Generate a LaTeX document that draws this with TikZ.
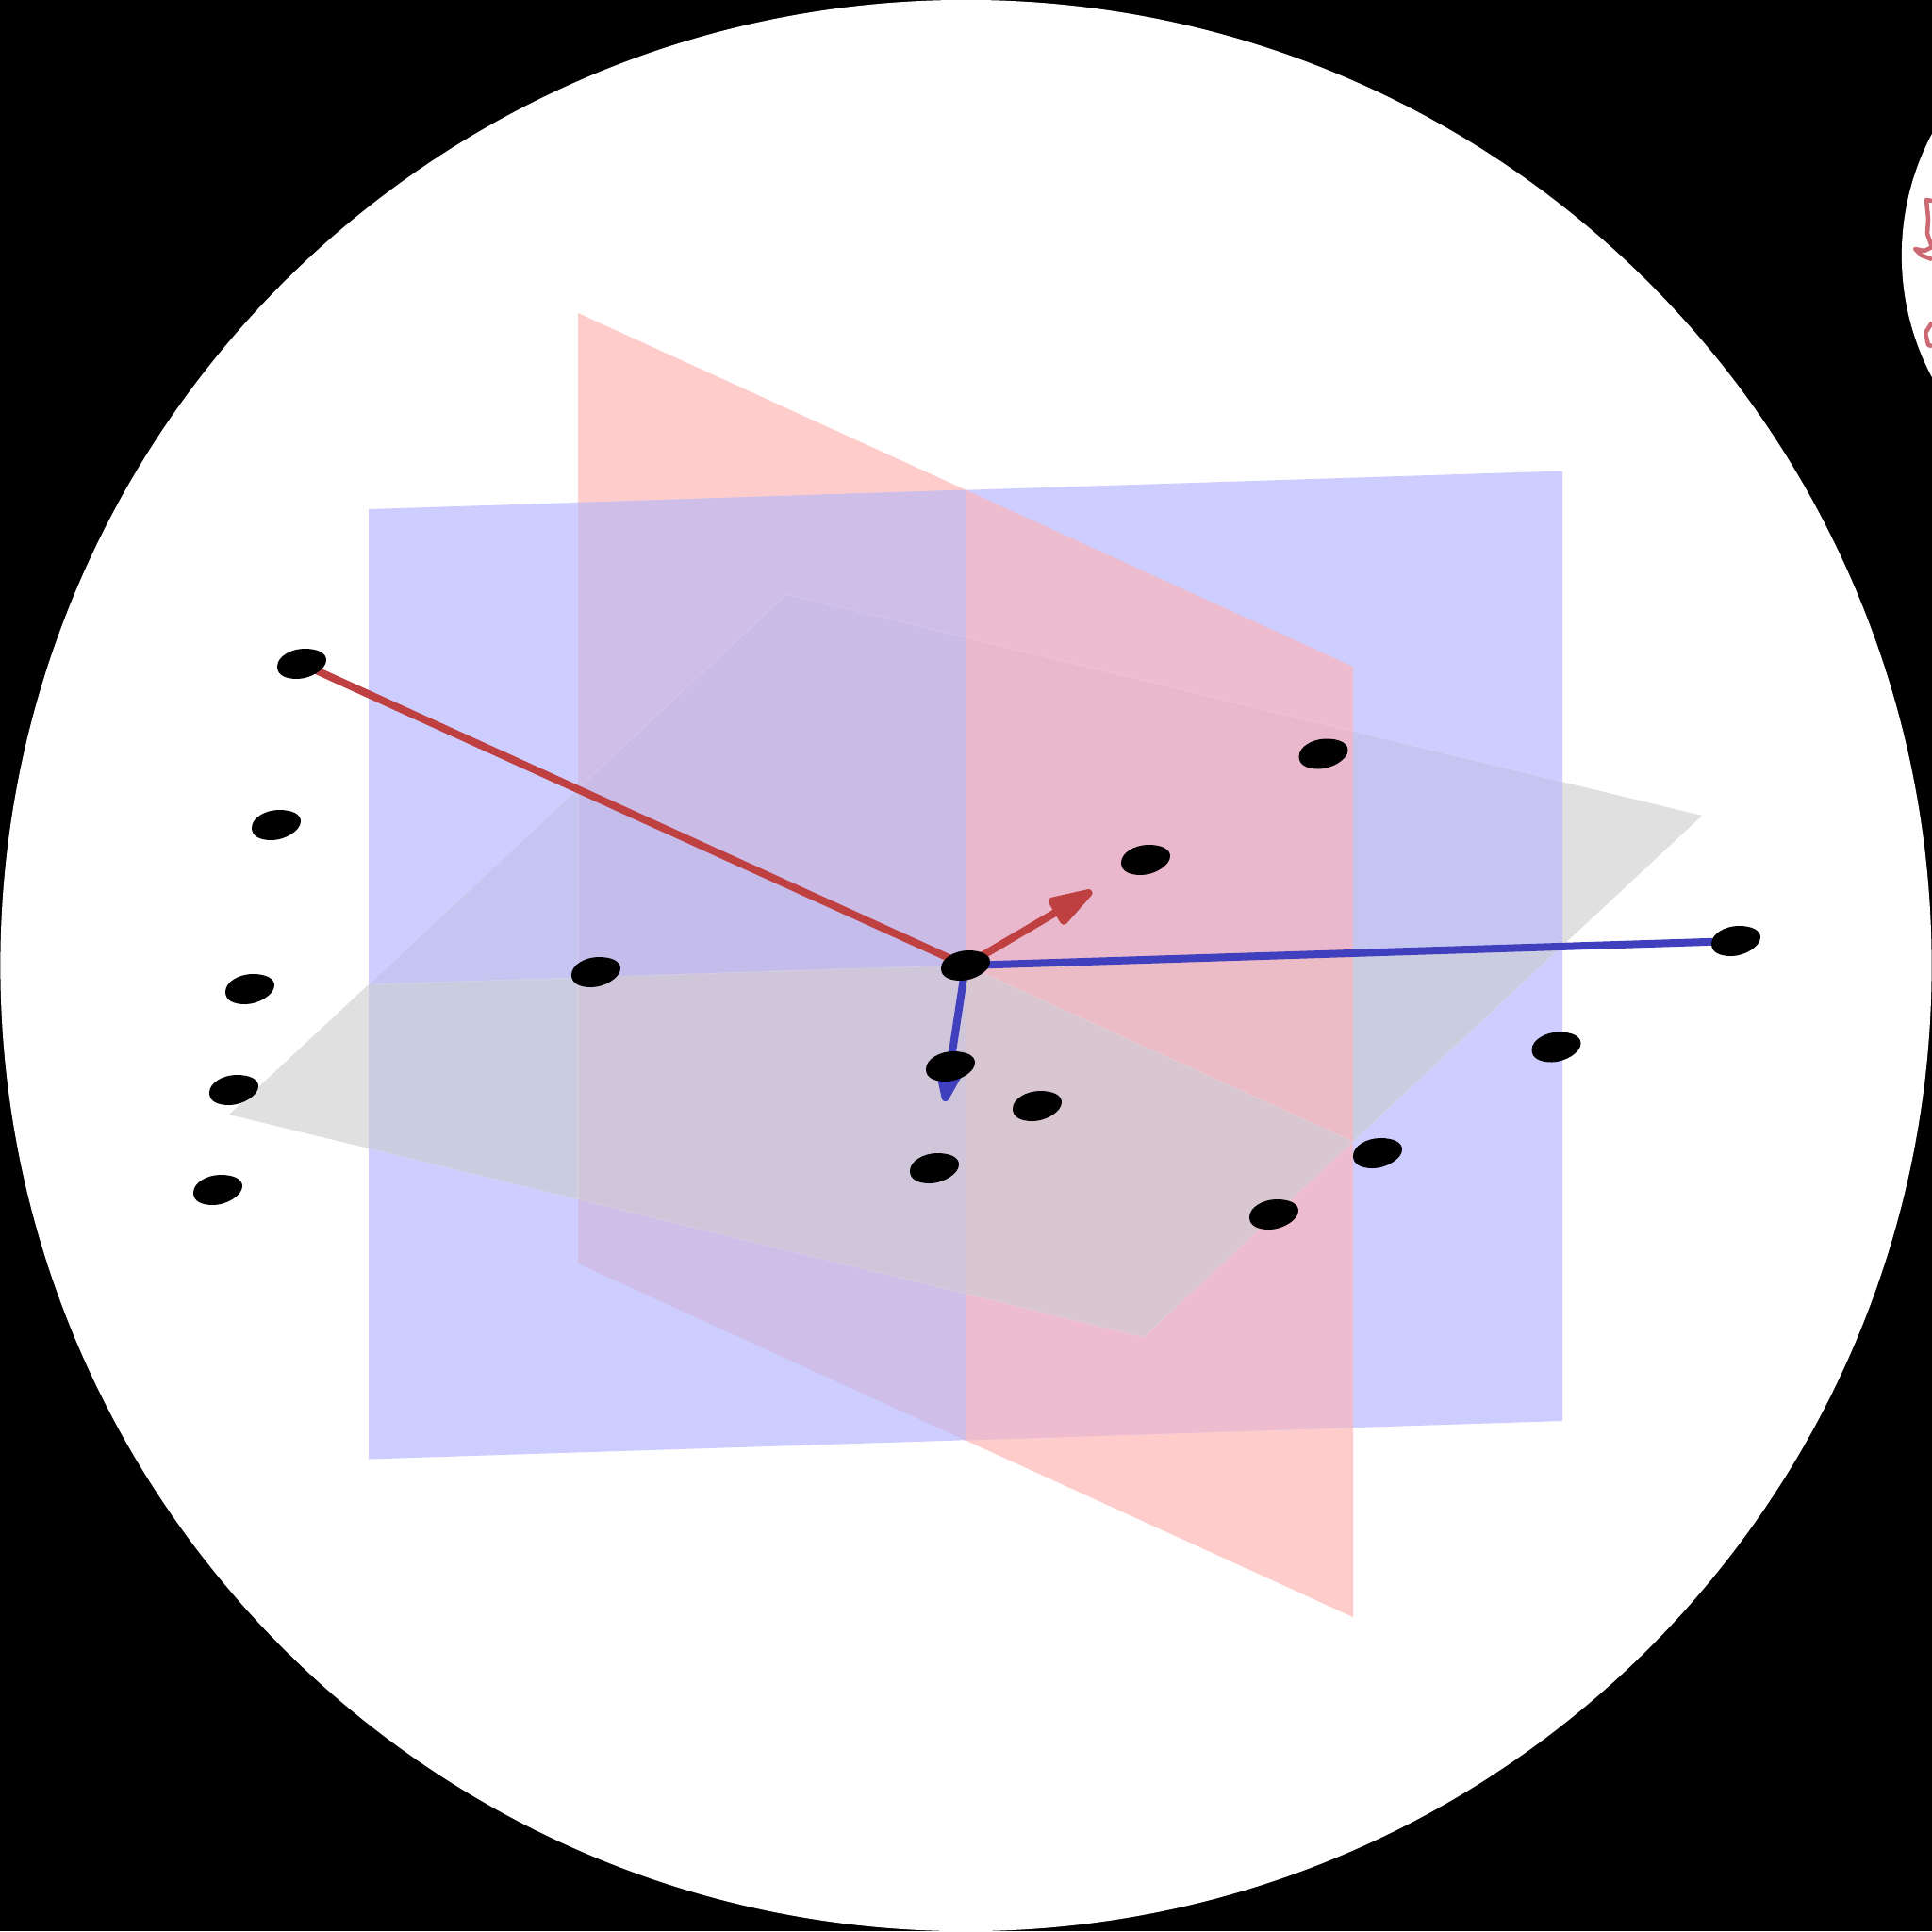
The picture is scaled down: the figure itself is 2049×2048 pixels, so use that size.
\documentclass[tikz,border=0pt]{standalone}
\usetikzlibrary{arrows.meta,shapes.geometric}
\definecolor{cB}{RGB}{205,205,255}
\definecolor{cP}{RGB}{255,204,204}
\definecolor{cG}{RGB}{224,224,224}
\definecolor{cPBl}{RGB}{207,190,232}
\definecolor{cPBr}{RGB}{237,188,207}
\definecolor{cBGu}{RGB}{196,197,240}
\definecolor{cBGd}{RGB}{202,204,224}
\definecolor{cLa}{RGB}{203,187,231}
\definecolor{cLb}{RGB}{196,188,235}
\definecolor{cLc}{RGB}{207,198,218}
\definecolor{cRa}{RGB}{233,184,204}
\definecolor{cRb}{RGB}{236,188,198}
\definecolor{cRc}{RGB}{216,198,208}
\definecolor{axR}{RGB}{191,64,64}
\definecolor{axB}{RGB}{64,64,191}
\definecolor{scrib}{RGB}{205,105,115}
\tikzset{
  dot/.style={ellipse,inner sep=0pt,minimum width=0.40cm,minimum height=0.20cm,rotate=15},
  axis/.style={line width=0.08cm},
  scribble/.style={draw=scrib,line width=0.045cm,line join=round},
  seam/.style={draw=white,draw opacity=0.13,line width=0.012cm}
}
\newcommand{\blobat}[1]{\fill[black,shift={(#1)}] (-26,3) .. controls (-26,-8) and (-11,-16) .. (3,-16) .. controls (16,-16) and (26,-12) .. (26,-4) .. controls (26,6) and (9,16) .. (-5,16) .. controls (-17,16) and (-26,12) .. (-26,3) -- cycle;}
\begin{document}
\begin{tikzpicture}[x=0.01cm,y=-0.01cm]
\useasboundingbox (0,0) rectangle (2049,2048);
\clip (0,0) rectangle (2049,2048);
\fill[black] (0,0) rectangle (2049,2048);
\fill[white] (1024.5,1024) circle [radius=10.235cm];
\fill[white] (2292,271) circle [radius=2.75cm];
% scribbles on the neighbouring disc
\draw[scribble] (2049,213) -- (2043,212) -- (2045,232) -- (2044,248) -- (2049,262);
\draw[scribble] (2049,262) -- (2041,266) -- (2031,264) -- (2038,271) -- (2049,275);
\draw[scribble] (2049,342) -- (2042,353) -- (2045,366) -- (2049,367);
% planes
\fill[cP] (613,332) -- (1435,707) -- (1435,1715) -- (613,1340) -- cycle;
\fill[cB] (391,540) -- (1657,499.5) -- (1657,1507) -- (391,1547.5) -- cycle;
\fill[cPBl] (613,533) -- (1024,519.5) -- (1024,1527.5) -- (613,1340) -- cycle;
\fill[cPBr] (1024,519.5) -- (1435,707) -- (1435,1514) -- (1024,1527.5) -- cycle;
% floor plane pieces
\fill[cG] (243,1182) -- (391,1044) -- (391,1218) -- cycle;
\fill[cG] (1805,865) -- (1657,829.2) -- (1657,1003) -- cycle;
\fill[cBGu] (391,1044) -- (613,836.4) -- (613,1036.7) -- cycle;
\fill[cBGd] (391,1044) -- (613,1036.7) -- (613,1272) -- (391,1218) -- cycle;
\fill[cLa] (613,836.4) -- (834,630) -- (1024,676) -- (1024,1023.5) -- cycle;
\fill[cLb] (613,836.4) -- (1024,1023.5) -- (613,1036.7) -- cycle;
\fill[cLc] (613,1036.7) -- (1024,1023.5) -- (1024,1372) -- (613,1272) -- cycle;
\fill[cRa] (1024,676) -- (1435,775.5) -- (1435,1010.3) -- (1024,1023.5) -- cycle;
\fill[cRb] (1024,1023.5) -- (1435,1010.3) -- (1435,1210.6) -- cycle;
\fill[cRc] (1024,1023.5) -- (1435,1210.6) -- (1213,1418) -- (1024,1372) -- cycle;
\fill[cBGu] (1435,775.5) -- (1657,829.2) -- (1657,1003) -- (1435,1010.3) -- cycle;
\fill[cBGd] (1435,1010.3) -- (1657,1003) -- (1435,1210.6) -- cycle;
% faint seams where the plane pieces meet
\path[seam] (391,1044) -- (1657,1003);
\path[seam] (1024,1023.5) -- (1435,1210.6);
\path[seam] (613,836.4) -- (613,1272);
\path[seam] (834,630) -- (1657,829.2);
\path[seam] (391,1218) -- (1213,1418) -- (1657,1003);
\path[seam] (391,1044) -- (834,630);
% points
\coordinate (rtip) at (1158,945);
\coordinate (btip) at (1002,1168);
\foreach \n/\x/\y in {p1/320/704,p2/293/875,p3/265/1049,p4/248/1156,p5/231/1262,p6/632/1031,c0/1024/1024,p7/1008/1131,p8/1100/1173,p9/991/1239,p10/1403.5/799.5,p11/1215/912,p12/1841/998,p13/1650.5/1110.5,p14/1461/1223,p15/1351/1288}
  \node[dot] (\n) at (\x,\y) {};
% connectors
\draw[axis,axR] (p1) -- (c0);
\draw[axis,axB] (c0) -- (p12);
\draw[axis,axR,-{Triangle[round,length=0.56cm,width=0.33cm]}] (c0) -- (rtip);
\draw[axis,axB,-{Triangle[round,length=0.44cm,width=0.30cm]}] (c0) -- (btip);
% blobs over the connectors
\foreach \n in {p1,p2,p3,p4,p5,p6,c0,p7,p8,p9,p10,p11,p12,p13,p14,p15} {\blobat{\n}}
\end{tikzpicture}
\end{document}
